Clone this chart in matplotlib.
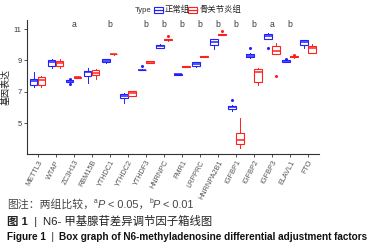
import numpy as np
import matplotlib
matplotlib.use('Agg')
import matplotlib.pyplot as plt
from matplotlib.patches import Rectangle
from matplotlib.lines import Line2D

genes = ["METTL3", "WTAP", "ZC3H13", "RBM15B", "YTHDC1", "YTHDC2", "YTHDF3", "HNRNPC",
         "FMR1", "LRPPRC", "HNRNPA2B1", "IGFBP1", "IGFBP2", "IGFBP3", "ELAVL1", "FTO"]

# 正常组 (blue)
norm_q1 = [7.42, 8.63, 7.65, 7.99, 8.88, 6.58, 8.38, 9.80, 8.10, 8.65, 9.99, 5.90, 9.20, 10.37, 8.92, 9.99]
norm_med = [7.67, 8.90, 7.69, 8.27, 8.99, 6.71, 8.40, 9.92, 8.12, 8.77, 10.20, 6.05, 9.31, 10.56, 8.97, 10.16]
norm_q3 = [7.84, 9.01, 7.73, 8.33, 9.08, 6.86, 8.42, 10.01, 8.14, 8.88, 10.35, 6.11, 9.42, 10.69, 9.03, 10.29]
norm_lo = [7.29, 8.54, 7.63, 7.56, 8.85, 6.30, 8.37, 9.78, 8.09, 8.60, 9.75, 5.80, 9.18, 10.35, 8.90, 9.78]
norm_hi = [8.27, 9.08, 7.75, 8.54, 9.12, 6.92, 8.43, 10.03, 8.15, 8.90, 10.38, 6.15, 9.45, 10.72, 9.05, 10.32]
norm_out = [[], [], [7.84, 7.52], [], [], [], [8.63], [], [], [], [], [6.50], [9.78], [9.78], [9.10], []]

# 骨关节炎组 (red)
oa_q1 = [7.45, 8.67, 7.88, 8.09, 9.38, 6.75, 8.85, 10.29, 8.58, 9.22, 10.62, 3.68, 7.60, 9.40, 9.20, 9.50]
oa_med = [7.75, 8.82, 7.93, 8.22, 9.40, 6.92, 8.90, 10.32, 8.60, 9.24, 10.65, 3.90, 8.27, 9.61, 9.25, 9.78]
oa_q3 = [7.93, 8.97, 7.97, 8.39, 9.42, 7.05, 8.95, 10.35, 8.62, 9.26, 10.68, 4.39, 8.46, 9.91, 9.29, 9.95]
oa_lo = [7.29, 8.50, 7.86, 7.84, 9.37, 6.70, 8.83, 10.27, 8.57, 9.21, 10.60, 3.39, 7.45, 9.38, 9.18, 9.46]
oa_hi = [8.00, 9.08, 7.99, 8.48, 9.43, 7.08, 8.97, 10.37, 8.63, 9.27, 10.70, 5.31, 8.50, 10.12, 9.30, 10.07]
oa_out = [[], [], [], [], [], [], [], [10.59], [], [], [10.89], [], [], [7.99], [9.35], []]

letters = ["", "", "a", "", "b", "", "b", "b", "b", "b", "b", "b", "b", "a", "b", ""]

plt.rcParams['font.family'] = ['Liberation Sans', 'Noto Sans CJK SC']

BLUE = '#2020ff'
RED = '#ff2020'
W, H = 384, 247


def make_stats(q1, med, q3, lo, hi, out):
    return [dict(q1=a, med=b, q3=c, whislo=d, whishi=e, fliers=f)
            for a, b, c, d, e, f in zip(q1, med, q3, lo, hi, out)]


fig = plt.figure(figsize=(W / 100, H / 100), dpi=100)
ax = fig.add_axes([26.7 / W, 1 - 154.3 / H, (319 - 26.7) / W, (154.3 - 19.7) / H])

pos = np.arange(1, len(genes) + 1)
groups = [(make_stats(norm_q1, norm_med, norm_q3, norm_lo, norm_hi, norm_out), -0.22, BLUE),
          (make_stats(oa_q1, oa_med, oa_q3, oa_lo, oa_hi, oa_out), 0.22, RED)]
for st, off, col in groups:
    ax.bxp(st, positions=pos + off, widths=0.42, patch_artist=True, showcaps=False,
           boxprops=dict(facecolor='white', edgecolor=col, linewidth=0.8),
           medianprops=dict(color=col, linewidth=1.1),
           whiskerprops=dict(color=col, linewidth=0.7),
           flierprops=dict(marker='o', markersize=2.2, markerfacecolor=col,
                           markeredgecolor=col, markeredgewidth=0),
           manage_ticks=False)

for p, lab in zip(pos, letters):
    if lab:
        ax.text(p, 11.27, lab, ha='center', va='center', fontsize=6.2, color='#3a3a3a')

ax.set_xlim(0.4, len(genes) + 0.6)
ax.set_ylim(3.01, 11.6)
ax.set_yticks([5, 7, 9, 11])
ax.set_xticks(pos)
ax.set_xticklabels(genes, rotation=62, ha='right', rotation_mode='anchor', fontsize=5.2, color='#555555')
ax.tick_params(axis='y', labelsize=5.5, labelcolor='#333333')
ax.tick_params(length=2, width=0.6, color='#333333', pad=1.5)
for s in ['top', 'right']:
    ax.spines[s].set_visible(False)
for s in ['left', 'bottom']:
    ax.spines[s].set_color('#333333')
    ax.spines[s].set_linewidth(0.8)
ax.set_ylabel('基因表达', fontsize=6.5, color='#222222')
ax.yaxis.set_label_coords((11 - 26.7) / (319 - 26.7), 0.5)

# legend drawn above the plot
fig.text(135 / W, 1 - 10 / H, 'Type', fontsize=5.5, color='#333333', va='center')
for x0, col, lab in [(154, BLUE, '正常组'), (188, RED, '骨关节炎组')]:
    fig.add_artist(Rectangle((x0 / W, 1 - 13 / H), 9 / W, 6 / H, transform=fig.transFigure,
                             facecolor='white', edgecolor=col, linewidth=0.8))
    fig.add_artist(Line2D([x0 / W, (x0 + 9) / W], [1 - 10 / H, 1 - 10 / H],
                          transform=fig.transFigure, color=col, linewidth=0.9))
    fig.text((x0 + 11) / W, 1 - 10 / H, lab, fontsize=6, color='#222222', va='center')

# caption lines
renderer = fig.canvas.get_renderer()


def put(pieces, x, y):
    for s, kw in pieces:
        dy = kw.pop('dy', 0)
        t = fig.text(x / W, 1 - (y - dy) / H, s, va='center', **kw)
        bb = t.get_window_extent(renderer)
        x = bb.x1


cap = dict(fontsize=7.8, color='#444444')
sup = dict(fontsize=4.8, color='#444444', dy=3)
put([('图注：两组比较，', dict(cap)), ('a', dict(sup)), ('P', dict(cap, style='italic')),
     (' < 0.05，', dict(cap)), ('b', dict(sup)), ('P', dict(cap, style='italic')),
     (' < 0.01', dict(cap))], 7, 204.5)
put([('图 1', dict(fontsize=8.2, color='#222222', weight='bold')),
     ('  |  ', dict(fontsize=8.2, color='#222222')),
     ('N6- 甲基腺苷差异调节因子箱线图', dict(fontsize=8.2, color='#222222'))], 7, 221.5)
put([('Figure 1', dict(fontsize=7.2, color='#111111', weight='bold')),
     ('  |  ', dict(fontsize=7.2, color='#111111')),
     ('Box graph of N6-methyladenosine differential adjustment factors',
      dict(fontsize=7.2, color='#111111', weight='bold'))], 7, 237)

fig.savefig('out.png', dpi=100)
